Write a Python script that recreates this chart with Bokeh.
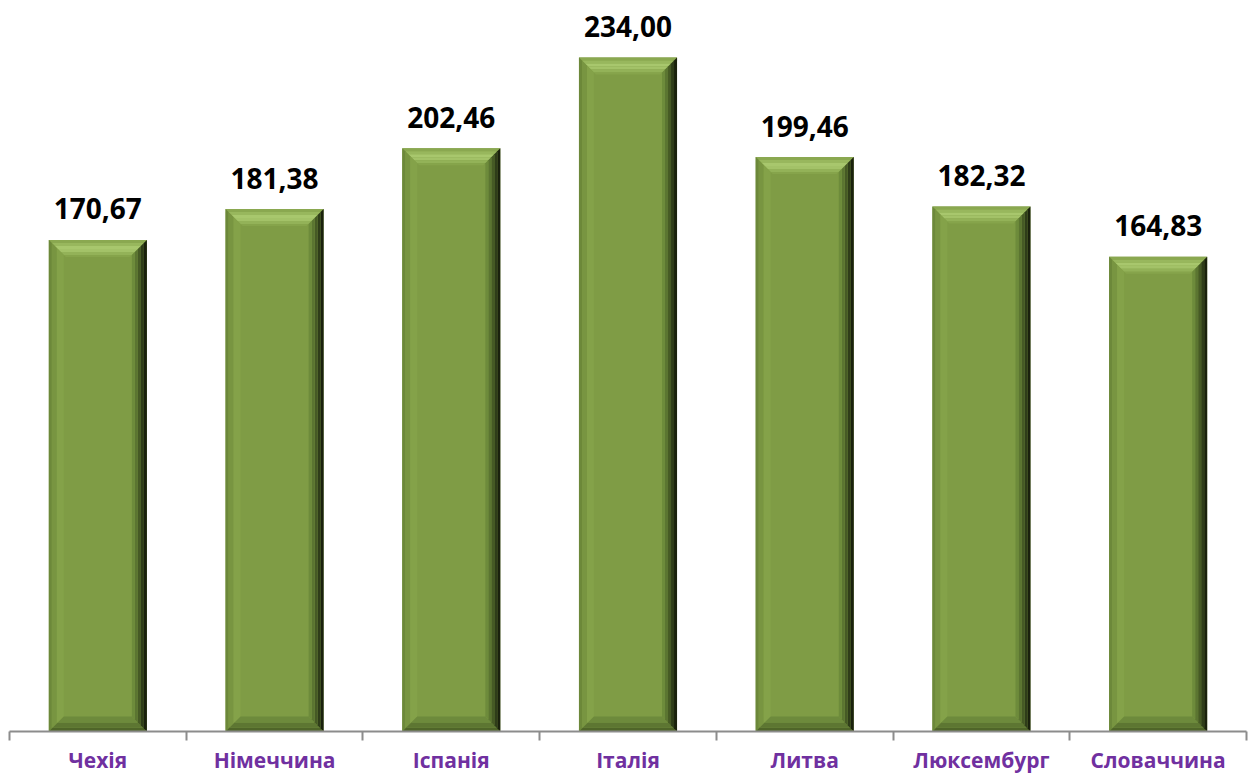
from bokeh.plotting import figure
from bokeh.models import Range1d, FixedTicker, ColumnDataSource
from bokeh.core.properties import value
from bokeh.embed import file_html
from bokeh.resources import INLINE

countries = ["Чехія", "Німеччина", "Іспанія", "Італія", "Литва", "Люксембург", "Словаччина"]
values = [170.67, 181.38, 202.46, 234.00, 199.46, 182.32, 164.83]
labels = ["170,67", "181,38", "202,46", "234,00", "199,46", "182,32", "164,83"]

W, H = 1254, 776
BL, BR, BT, BB = 9, 8, 0, 45
YMAX = 253.8
p = figure(width=W, height=H, x_range=Range1d(0, len(countries)), y_range=Range1d(0, YMAX),
           output_backend="svg", toolbar_location=None, y_axis_location=None,
           min_border_left=BL, min_border_right=BR, min_border_top=BT, min_border_bottom=BB)
p.outline_line_color = None
p.xgrid.visible = False
p.ygrid.visible = False
p.background_fill_color = "white"
p.border_fill_color = "white"

fw = W - BL - BR
fh = H - BT - BB
pxx = len(countries) / fw      # data units per pixel, x
pxy = YMAX / fh                # data units per pixel, y

bw = 0.555
centers = [i + 0.5 for i in range(len(countries))]

def layer(inset_out, inset_in, side):
    xs, ys = [], []
    for c, v in zip(centers, values):
        x0, x1 = c - bw / 2, c + bw / 2
        def pt(k, d):
            dx, dy = d * pxx, d * pxy
            return {
                "tl": (x0 + dx, v - dy), "tr": (x1 - dx, v - dy),
                "bl": (x0 + dx, 0 + dy), "br": (x1 - dx, 0 + dy),
            }[k]
        ks = {"top": ["tl", "tr"], "bottom": ["br", "bl"],
              "left": ["bl", "tl"], "right": ["tr", "br"]}[side]
        a = pt(ks[0], inset_out); b = pt(ks[1], inset_out)
        cc = pt(ks[1], inset_in); d = pt(ks[0], inset_in)
        xs.append([a[0], b[0], cc[0], d[0]])
        ys.append([a[1], b[1], cc[1], d[1]])
    return xs, ys

# main body
p.quad(left=[c - bw / 2 for c in centers], right=[c + bw / 2 for c in centers],
       bottom=0, top=values, fill_color="#7f9c45", line_color=None)

def band(out, inn, side, color):
    xs, ys = layer(out, inn, side)
    p.patches(xs=xs, ys=ys, fill_color=color, line_color=None)

# top bevel (light highlight)
band(0, 3, "top", "#8aa850")
band(3, 6, "top", "#98b75d")
band(6, 9, "top", "#a8c76d")
band(9, 12, "top", "#a3c268")
band(12, 15, "top", "#93b258")
band(15, 17, "top", "#86a44b")
# left bevel
band(0, 3, "left", "#6c883a")
band(3, 8, "left", "#789541")
band(8, 15, "left", "#84a249")
# bottom bevel
band(0, 4, "bottom", "#4f6529")
band(4, 9, "bottom", "#5d7632")
band(9, 15, "bottom", "#6d8a3c")
# right bevel (dark)
band(0, 3, "right", "#1a210d")
band(3, 6, "right", "#2f3d19")
band(6, 9, "right", "#465a25")
band(9, 12, "right", "#5b7531")
band(12, 15, "right", "#6d8b3b")

# value labels
src = ColumnDataSource(dict(x=centers, y=values, t=labels))
p.text(x="x", y="y", text="t", source=src, text_align="center", text_baseline="alphabetic",
       y_offset=-31, text_font=value("Open Sans"), text_font_style="bold",
       text_font_size="28px", text_color="black")

# x axis: labels at centers, ticks at boundaries
ax = p.xaxis[0]
ax.ticker = FixedTicker(ticks=centers, minor_ticks=list(range(len(countries) + 1)))
ax.major_label_overrides = {c: n for c, n in zip(centers, countries)}
ax.major_tick_out = 0
ax.major_tick_in = 0
ax.minor_tick_out = 9
ax.minor_tick_in = 0
ax.minor_tick_line_color = "#8c8c8c"
ax.minor_tick_line_width = 2
ax.axis_line_color = "#8c8c8c"
ax.axis_line_width = 2
ax.major_label_standoff = 5
ax.major_label_text_font = "Open Sans"
ax.major_label_text_font_style = "bold"
ax.major_label_text_font_size = "21px"
ax.major_label_text_color = "#7030a0"

open("out.html", "w").write(file_html(p, INLINE))
